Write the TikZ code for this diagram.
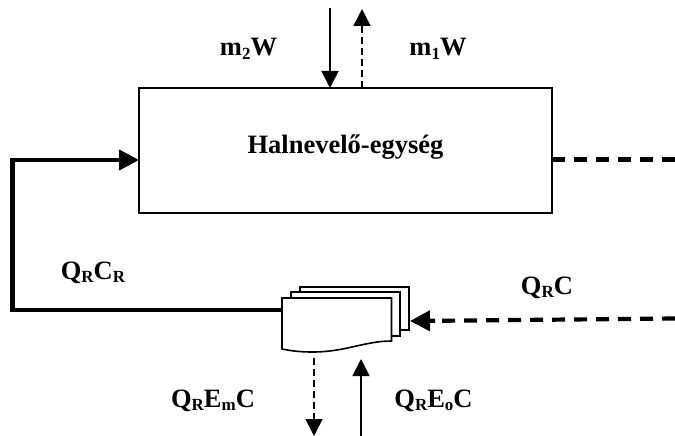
\documentclass[tikz,border=0pt]{standalone}
\usepackage{fontspec}
\setmainfont{Liberation Serif}
\usetikzlibrary{arrows.meta,calc}
\tikzset{
  lbl/.style={font=\fontsize{26.5}{30}\selectfont\bfseries,inner sep=0pt,anchor=base},
  tip/.style={-{Triangle[length=17pt,width=17pt]}},
  thinline/.style={line width=1.6pt,tip},
  thindash/.style={line width=1.6pt,dash pattern=on 7pt off 4pt,tip},
  thickline/.style={line width=4.2pt},
  thickdash/.style={line width=4.2pt,dash pattern=on 13pt off 9pt},
  docsheet/.style={draw,fill=white,line width=1.6pt,line join=miter},
}
\newcommand{\sbs}[1]{\raisebox{-0.15em}{\fontsize{17}{17}\selectfont #1}}
\begin{document}
\begin{tikzpicture}[x=1pt,y=-1pt]
\useasboundingbox (0,0) rectangle (675,436);
\node[draw,line width=1.6pt,minimum width=413pt,minimum height=125pt,inner sep=0pt,outer sep=0pt,anchor=north west] (tank) at (139,88) {};
\node[lbl] (hal) at (345.5,153) {Halnevelő-egység};
% document stack
\draw[docsheet] (300,287) -- (409,287) -- (409,330) -- (300,330) -- cycle;
\draw[docsheet] (291,292) -- (400,292) -- (400,336) -- (291,336) -- cycle;
\draw[docsheet] (282,298) -- (391.5,298) -- (391.5,341) .. controls (365,341) and (345,352) .. (313,352) .. controls (300,352) and (292,351) .. (282,349) -- cycle;
\coordinate (filterL) at (282,310);
\coordinate (filterR) at (410,321);
\coordinate (corner1) at (12.5,310);
\coordinate (corner2) at (12.5,160);
\coordinate (tankIn) at (139,160);
\coordinate (tankOutS) at (552,159.5);
\coordinate (rightEnd) at (675,159.5);
\coordinate (inEnd) at (675,318.5);
\coordinate (inMid) at (435,320.8);
\coordinate (topS) at (330,8);
\coordinate (topSe) at (330,88);
\coordinate (topD) at (362,88);
\coordinate (topDe) at (362,9);
\coordinate (dnS) at (314,358);
\coordinate (dnE) at (314,436);
\coordinate (upS) at (361,436);
\coordinate (upE) at (361,359);
% connectors
\draw[thickline,-{Triangle[length=20pt,width=20pt]},line join=miter] (filterL) -- (corner1) -- (corner2) -- (tankIn);
\draw[thickdash] (tankOutS) -- (rightEnd);
\draw[thickdash] (inEnd) -- (inMid);
\draw[line width=4.2pt,-{Triangle[length=20pt,width=20pt]}] (inMid) -- (filterR);
\draw[thinline] (topS) -- (topSe);
\draw[thindash] (topD) -- (topDe);
\draw[thindash] (dnS) -- (dnE);
\draw[thinline] (upS) -- (upE);
% labels
\node[lbl] (m2) at (248.5,56) {m\sbs{2}W};
\node[lbl] (m1) at (438,56) {m\sbs{1}W};
\node[lbl] (qrcr) at (93,279) {Q\sbs{R}C\sbs{R}};
\node[lbl] (qrc) at (547,294) {Q\sbs{R}C};
\node[lbl] (qrem) at (213,407) {Q\sbs{R}E\sbs{m}C};
\node[lbl] (qreo) at (433.5,407) {Q\sbs{R}E\sbs{o}C};
\end{tikzpicture}
\end{document}
